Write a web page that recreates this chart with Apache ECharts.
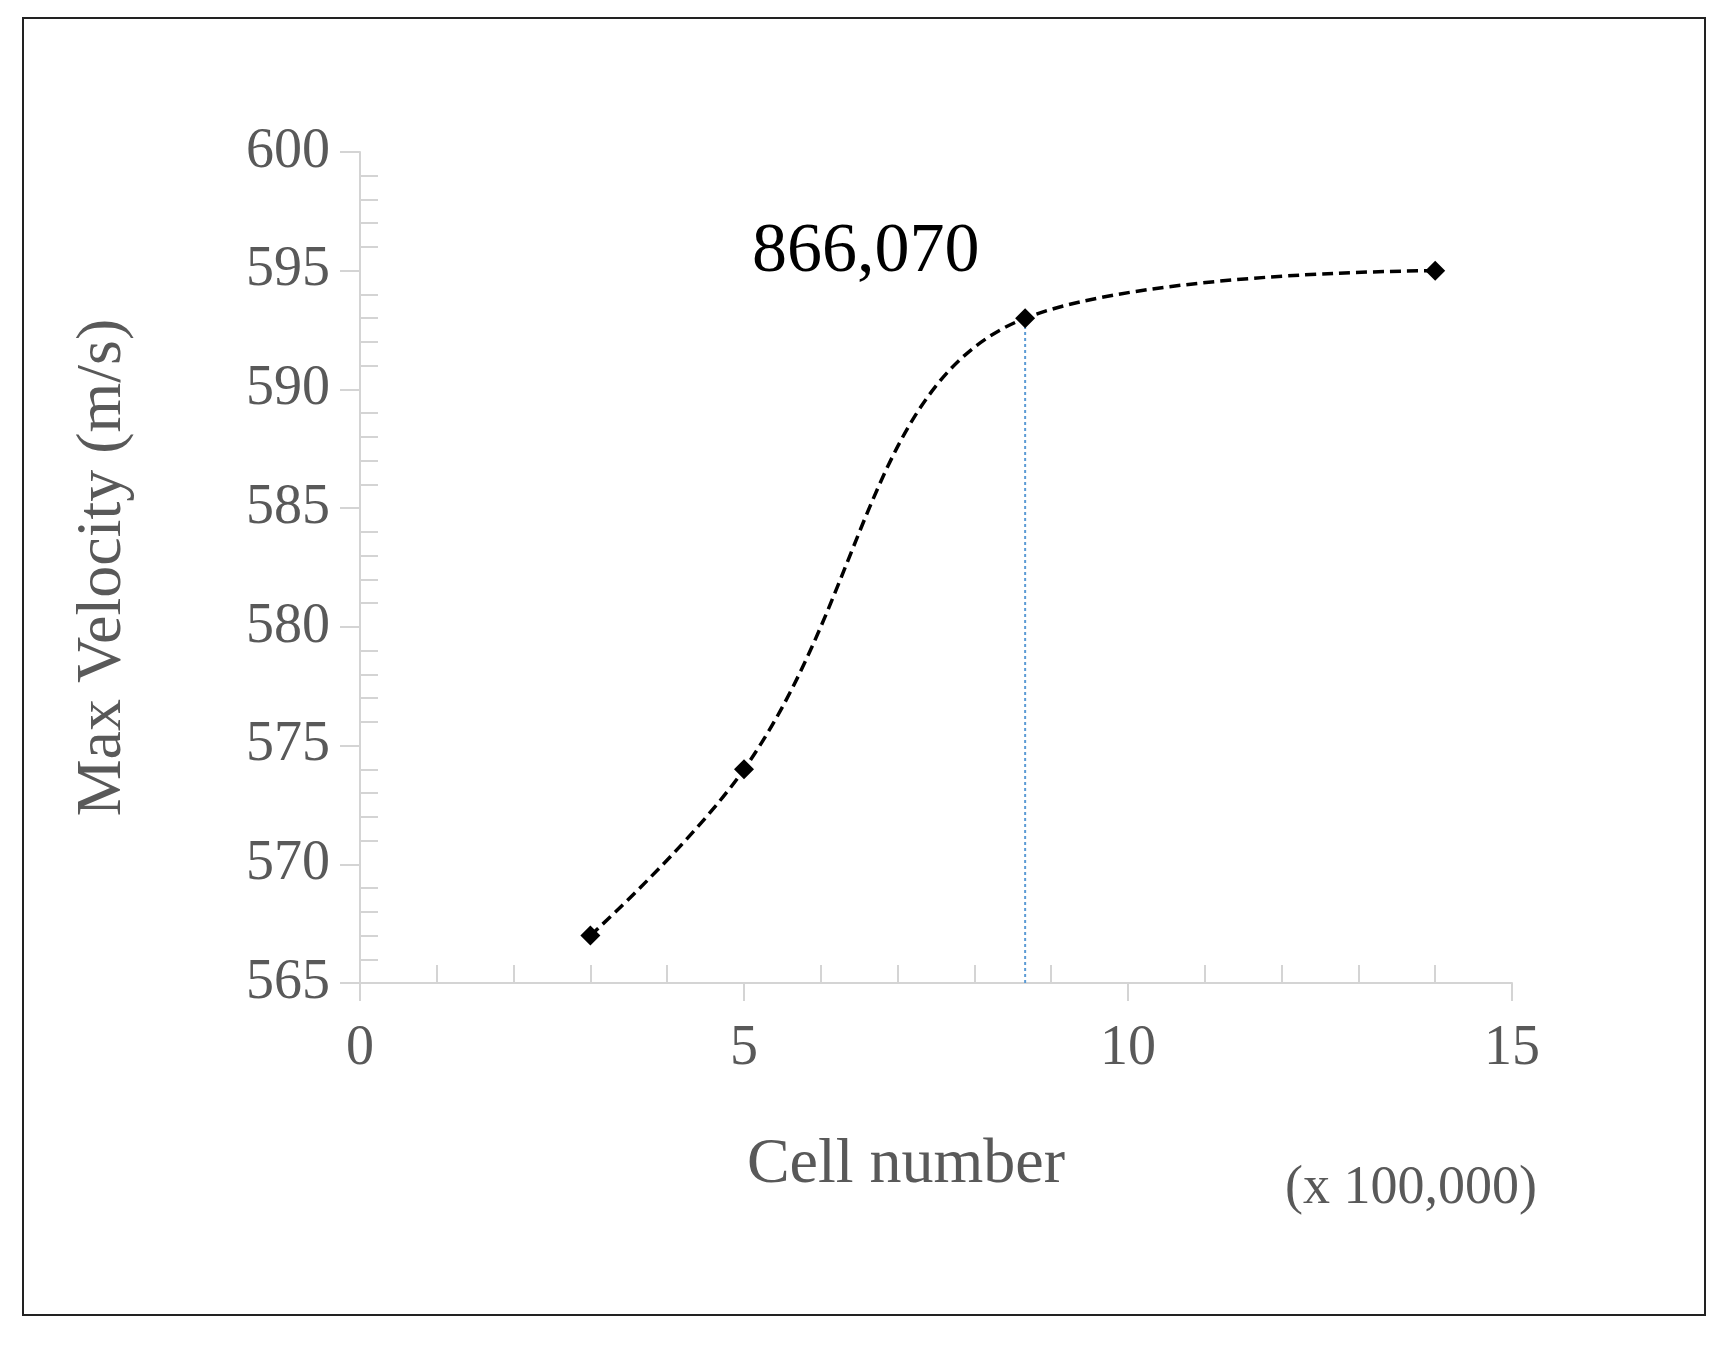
<!DOCTYPE html>
<html><head><meta charset="utf-8">
<script src="https://cdn.jsdelivr.net/npm/echarts@6/dist/echarts.min.js"></script>
<style>html,body{margin:0;background:#fff}#c{width:1735px;height:1350px}
#b{position:absolute;left:22px;top:17px;width:1684px;height:1299px;border:2px solid #222;box-sizing:border-box;pointer-events:none}</style>
</head><body><div id="c"></div><div id="b"></div>
<script>
const cellNumbers = [3, 5, 8.6607, 14];
const maxVelocity = [567, 574, 593, 595];
const markX = 8.6607;
const markLabel = '866,070';
const xTicks = [0, 5, 10, 15];
const yTicks = [565, 570, 575, 580, 585, 590, 595, 600];
const font = 'Liberation Serif';
const ch = echarts.init(document.getElementById('c'));
const axisGray = '#d4d4d4';
ch.setOption({
  animation:false,
  grid:{left:360,right:223,top:152,bottom:367,containLabel:false},
  xAxis:{type:'value',min:0,max:15,interval:5,
    axisLine:{onZero:false,lineStyle:{color:axisGray,width:2}},
    axisTick:{show:true,inside:false,length:18,lineStyle:{color:axisGray,width:2}},
    minorTick:{show:true,splitNumber:5,length:-18,lineStyle:{color:axisGray,width:2}},
    splitLine:{show:false},
    axisLabel:{fontFamily:font,fontSize:56,color:'#595959',margin:38},
    name:'Cell number',nameLocation:'middle',nameGap:150,
    nameTextStyle:{fontFamily:font,fontSize:64,color:'#595959',padding:[0,60,0,0]}},
  yAxis:{type:'value',min:565,max:600,interval:5,
    axisLine:{show:true,lineStyle:{color:axisGray,width:2}},
    axisTick:{show:true,length:20,lineStyle:{color:axisGray,width:2}},
    minorTick:{show:true,splitNumber:5,length:-18,lineStyle:{color:axisGray,width:2}},
    splitLine:{show:false},
    axisLabel:{fontFamily:font,fontSize:56,color:'#595959',margin:30},
    name:'Max Velocity (m/s)',nameLocation:'middle',nameGap:225,
    nameTextStyle:{fontFamily:font,fontSize:64,color:'#595959'}},
  graphic:[
    {type:'text',left:1285,top:1162,style:{text:'(x 100,000)',font:'54px "Liberation Serif"',fill:'#595959'}},
    {type:'text',left:752,top:218,style:{text:markLabel,font:'70px "Liberation Serif"',fill:'#000'}}
  ],
  series:[
    {type:'line',data:[[markX,565],[markX,593]],symbol:'none',
     lineStyle:{color:'#5b9bd5',width:2,type:[3,3]},z:1},
    {type:'line',data:cellNumbers.map((x,i)=>[x,maxVelocity[i]]),smooth:0.4,
     symbol:'diamond',symbolSize:20,itemStyle:{color:'#000'},
     lineStyle:{color:'#000',width:3.5,type:[11,6]},z:3}
  ]
});
</script></body></html>
